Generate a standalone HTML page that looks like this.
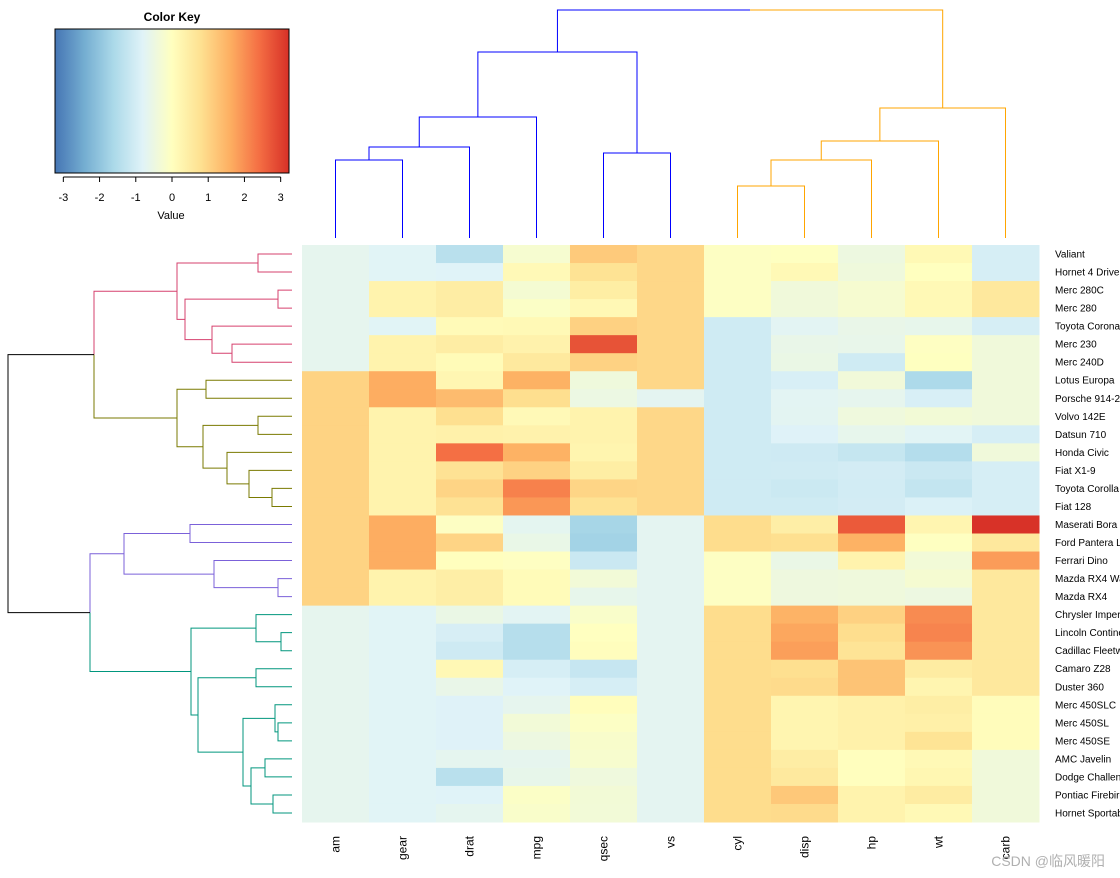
<!DOCTYPE html>
<html><head><meta charset="utf-8"><style>
body{margin:0;background:#fff;}
svg{display:block;font-family:"Liberation Sans","Noto Sans CJK SC",sans-serif;}
</style></head><body>
<svg id="chart" width="1120" height="878" viewBox="0 0 1120 878">
<defs>
<linearGradient id="kg" x1="0" x2="1" y1="0" y2="0">
<stop offset="0" stop-color="#4575B4"/><stop offset="0.125" stop-color="#74ADD1"/><stop offset="0.25" stop-color="#ABD9E9"/><stop offset="0.375" stop-color="#E0F3F8"/><stop offset="0.5" stop-color="#FFFFBF"/><stop offset="0.625" stop-color="#FEE090"/><stop offset="0.75" stop-color="#FDAE61"/><stop offset="0.875" stop-color="#F46D43"/><stop offset="1" stop-color="#D73027"/>
</linearGradient>
</defs>
<g>
<text x="172" y="21" text-anchor="middle" font-size="12" font-weight="bold">Color Key</text>
<rect x="55" y="29" width="234" height="144" fill="url(#kg)" stroke="#000" stroke-width="1"/>
<g id="keyticks"></g>
<text x="171" y="219" text-anchor="middle" font-size="11">Value</text>
</g>
<g id="heat"></g>
<g id="coldend"></g>
<g id="rowdend"></g>
<g id="rowlabels"></g>
<g id="collabels"></g>
<text x="1105" y="866" text-anchor="end" font-size="14" fill="#b0b0b0">CSDN @临风暖阳</text>
</svg>
<script>
const columns = ["am","gear","drat","mpg","qsec","vs","cyl","disp","hp","wt","carb"];
const rowNames = ["Valiant","Hornet 4 Drive","Merc 280C","Merc 280","Toyota Corona","Merc 230","Merc 240D","Lotus Europa","Porsche 914-2","Volvo 142E","Datsun 710","Honda Civic","Fiat X1-9","Toyota Corolla","Fiat 128","Maserati Bora","Ford Pantera L","Ferrari Dino","Mazda RX4 Wag","Mazda RX4","Chrysler Imperial","Lincoln Continental","Cadillac Fleetwood","Camaro Z28","Duster 360","Merc 450SLC","Merc 450SL","Merc 450SE","AMC Javelin","Dodge Challenger","Pontiac Firebird","Hornet Sportabout"];
const am   = [0,0,0,0,0,0,0,1,1,1,1,1,1,1,1,1,1,1,1,1,0,0,0,0,0,0,0,0,0,0,0,0];
const gear = [3,3,4,4,3,4,4,5,5,4,4,4,4,4,4,5,5,5,4,4,3,3,3,3,3,3,3,3,3,3,3,3];
const drat = [2.76,3.08,3.92,3.92,3.70,3.92,3.69,3.77,4.43,4.11,3.85,4.93,4.08,4.22,4.08,3.54,4.22,3.62,3.90,3.90,3.23,3.00,2.93,3.73,3.21,3.07,3.07,3.07,3.15,2.76,3.08,3.15];
const mpg  = [18.1,21.4,17.8,19.2,21.5,22.8,24.4,30.4,26,21.4,22.8,30.4,27.3,33.9,32.4,15,15.8,19.7,21,21,14.7,10.4,10.4,13.3,14.3,15.2,17.3,16.4,15.2,15.5,19.2,18.7];
const qsec = [20.22,19.44,18.9,18.3,20.01,22.9,20,16.9,16.7,18.6,18.61,18.52,18.9,19.9,19.47,14.6,14.5,15.5,17.02,16.46,17.42,17.82,17.98,15.41,15.84,18,17.6,17.4,17.3,16.87,17.05,17.02];
const vs   = [1,1,1,1,1,1,1,1,0,1,1,1,1,1,1,0,0,0,0,0,0,0,0,0,0,0,0,0,0,0,0,0];
const cyl  = [6,6,6,6,4,4,4,4,4,4,4,4,4,4,4,8,8,6,6,6,8,8,8,8,8,8,8,8,8,8,8,8];
const disp = [225,258,167.6,167.6,120.1,140.8,146.7,95.1,120.3,121,108,75.7,79,71.1,78.7,301,351,145,160,160,440,460,472,350,360,275.8,275.8,275.8,304,318,400,360];
const hp   = [105,110,123,123,97,95,62,113,91,109,93,52,66,65,66,335,264,175,110,110,230,215,205,245,245,180,180,180,150,150,175,175];
const wt   = [3.46,3.215,3.44,3.44,2.465,3.15,3.19,1.513,2.14,2.78,2.32,1.615,1.935,1.835,2.2,3.57,3.17,2.77,2.875,2.62,5.345,5.424,5.25,3.84,3.57,3.78,3.73,4.07,3.435,3.52,3.845,3.44];
const carb = [1,1,4,4,1,2,2,2,2,2,1,2,1,1,1,8,4,6,4,4,4,4,4,4,4,3,3,3,2,2,2,2];
const keyTicks = [-3,-2,-1,0,1,2,3];
const colHeights = {amGear:160, amGearDrat:147, toMpg:117, qsecVs:153, left:52, cylDisp:186, toHp:160, toWt:141, toCarb:108, root:10};

const NS="http://www.w3.org/2000/svg";
function mk(tag,attrs,parent){const e=document.createElementNS(NS,tag);for(const k in attrs)e.setAttribute(k,attrs[k]);parent.appendChild(e);return e;}
const data=[am,gear,drat,mpg,qsec,vs,cyl,disp,hp,wt,carb];
const X0=302,X1=1039,Y0=245,Y1=822;
const cw=(X1-X0)/columns.length, rh=(Y1-Y0)/rowNames.length;
const xc=i=>X0+cw*(i+0.5), yc=i=>Y0+rh*(i+0.5);
const VMIN=-3.23,VMAX=3.23;
const pal=["#4575B4","#74ADD1","#ABD9E9","#E0F3F8","#FFFFBF","#FEE090","#FDAE61","#F46D43","#D73027"];
function hex(c){return [1,3,5].map(i=>parseInt(c.substr(i,2),16));}
function color(v){let x=Math.max(-1,Math.min(1,v/VMAX));x=Math.sign(x)*Math.pow(Math.abs(x),1.15);let t=(x+1)/2*8;const i=Math.min(7,Math.floor(t)),f=t-i;const a=hex(pal[i]),b=hex(pal[i+1]);return "rgb("+a.map((q,k)=>Math.round(q+(b[k]-q)*f)).join(",")+")";}
function zs(arr){const n=arr.length,m=arr.reduce((s,x)=>s+x,0)/n;const sd=Math.sqrt(arr.reduce((s,x)=>s+(x-m)*(x-m),0)/(n-1));return arr.map(x=>(x-m)/sd);}
const heat=document.getElementById('heat');
data.forEach((col,j)=>{const z=zs(col);z.forEach((v,i)=>{
  const r=mk('rect',{x:X0+cw*j,y:Y0+rh*i,width:cw+0.5,height:rh+0.5,fill:color(v)},heat);
  
  
});});
const kt=document.getElementById('keyticks');
const kx=v=>55+(v-VMIN)/(VMAX-VMIN)*234;
mk('line',{x1:kx(-3),x2:kx(3),y1:177,y2:177,stroke:'#000'},kt);
keyTicks.forEach(t=>{mk('line',{x1:kx(t),x2:kx(t),y1:177,y2:182,stroke:'#000'},kt);
  const tx=mk('text',{x:kx(t),y:201,'text-anchor':'middle','font-size':11},kt);tx.textContent=t;
  
  });
const rl=document.getElementById('rowlabels');
rowNames.forEach((n,i)=>{const t=mk('text',{x:1055,y:yc(i)+3.5,'font-size':10},rl);t.textContent=n;
  
  });
const cl=document.getElementById('collabels');
columns.forEach((n,j)=>{const t=mk('text',{x:0,y:0,'font-size':12,'text-anchor':'end',transform:'translate('+(xc(j)+4)+',836) rotate(-90)'},cl);t.textContent=n;
  
  });
function drawTree(node,g,posFn,leafEdge,horiz){
  if(typeof node==='number') return {c:posFn(node),h:leafEdge};
  const a=drawTree(node.c[0],g,posFn,leafEdge,horiz),b=drawTree(node.c[1],g,posFn,leafEdge,horiz);
  const h=node.h;
  let d;
  if(horiz) d='M'+a.h+','+a.c+'H'+h+'V'+b.c+'H'+b.h;
  else d='M'+a.c+','+a.h+'V'+h+'H'+b.c+'V'+b.h;
  const p=mk('path',{d:d,fill:'none',stroke:node.col||'#000','stroke-width':1},g);
  
  
  return {c:(a.c+b.c)/2,h:h};
}
function paint(node,c){if(typeof node==='number')return;node.col=node.col||c;node.c.forEach(k=>paint(k,c));}
const H=colHeights;
const cLeft={h:H.left,c:[{h:H.toMpg,c:[{h:H.amGearDrat,c:[{h:H.amGear,c:[0,1]},2]},3]},{h:H.qsecVs,c:[4,5]}]};
const cRight={h:H.toCarb,c:[{h:H.toWt,c:[{h:H.toHp,c:[{h:H.cylDisp,c:[6,7]},8]},9]},10]};
paint(cLeft,'#0000FF');paint(cRight,'#FFA500');
const cg=document.getElementById('coldend');
const la=drawTree(cLeft,cg,xc,238,false),ra=drawTree(cRight,cg,xc,238,false);
let p=mk('path',{d:'M'+la.c+','+la.h+'V'+H.root+'H'+(la.c+ra.c)/2,fill:'none',stroke:'#0000FF'},cg);


p=mk('path',{d:'M'+(la.c+ra.c)/2+','+H.root+'H'+ra.c+'V'+ra.h,fill:'none',stroke:'#FFA500'},cg);


const pink={h:177,c:[{h:258,c:[0,1]},{h:185,c:[{h:278,c:[2,3]},{h:212,c:[4,{h:232,c:[5,6]}]}]}]};
const olive={h:177,c:[{h:206,c:[7,8]},{h:203,c:[{h:258,c:[9,10]},{h:227,c:[11,{h:249,c:[12,{h:272,c:[13,14]}]}]}]}]};
const purple={h:124,c:[{h:190,c:[15,16]},{h:214,c:[17,{h:278,c:[18,19]}]}]};
const teal={h:191,c:[{h:256,c:[20,{h:281,c:[21,22]}]},{h:198,c:[{h:256,c:[23,24]},{h:243,c:[{h:275,c:[25,{h:278,c:[26,27]}]},{h:251,c:[{h:265,c:[28,29]},{h:273,c:[30,31]}]}]}]}]};
paint(pink,'#D6406E');paint(olive,'#7A7A00');paint(purple,'#7B61D9');paint(teal,'#00967D');
const topTree={h:94,c:[pink,olive]},botTree={h:90,c:[purple,teal]};
const rg=document.getElementById('rowdend');
function drawTop(node,c1,c2){const a=drawTree(node.c[0],rg,yc,292,true),b=drawTree(node.c[1],rg,yc,292,true);
  let q=mk('path',{d:'M'+a.h+','+a.c+'H'+node.h+'V'+(a.c+b.c)/2,fill:'none',stroke:c1},rg);
  
  
  q=mk('path',{d:'M'+node.h+','+(a.c+b.c)/2+'V'+b.c+'H'+b.h,fill:'none',stroke:c2},rg);
  
  
  return {c:(a.c+b.c)/2,h:node.h};}
const t1=drawTop(topTree,'#D6406E','#7A7A00'),t2=drawTop(botTree,'#7B61D9','#00967D');
p=mk('path',{d:'M'+t1.h+','+t1.c+'H8V'+t2.c+'H'+t2.h,fill:'none',stroke:'#000'},rg);


</script>
</body></html>
